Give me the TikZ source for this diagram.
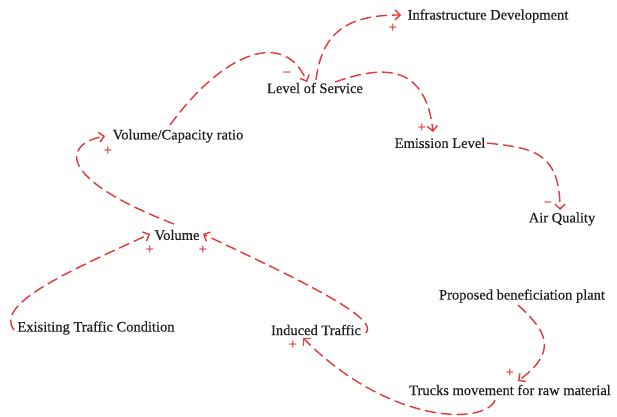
\documentclass[tikz,border=0pt]{standalone}
\usepackage{fontspec}
\setmainfont{Liberation Serif}
\newfontfamily\lblfont[FakeBold=0.3]{Liberation Serif}
\usetikzlibrary{arrows.meta,calc}
\definecolor{cldred}{RGB}{230,55,55}
\definecolor{txt}{RGB}{30,30,30}
\begin{document}
\begin{tikzpicture}[x=1pt,y=-1pt,
  lbl/.style={font=\lblfont\fontsize{14.5}{16}\selectfont, text=txt, inner sep=0pt},
  link/.style={draw=cldred, line width=1.4pt, dash pattern=on 11pt off 5pt,
    -{Straight Barb[length=5pt,width=10pt,line width=1.4pt]}},
  pol/.style={text=cldred, font=\fontsize{15}{15}\selectfont\bfseries, inner sep=0pt}]
\useasboundingbox (0,0) rectangle (617,416);
\fill[white] (0,0) rectangle (617,416);
% variables
\node[lbl] (infra) at (488,16) {Infrastructure Development};
\node[lbl] (los) at (315,88) {Level of Service};
\node[lbl] (vc) at (178,136) {Volume/Capacity ratio};
\node[lbl] (em) at (440,143) {Emission Level};
\node[lbl] (air) at (562,219) {Air Quality};
\node[lbl] (vol) at (177,235) {Volume};
\node[lbl] (plant) at (522,296) {Proposed beneficiation plant};
\node[lbl] (exist) at (96,328) {Exisiting Traffic Condition};
\node[lbl] (ind) at (316,330) {Induced Traffic};
\node[lbl] (truck) at (510,390) {Trucks movement for raw material};
% links
\draw[link] ($(vc)+(-8,-11)$) .. controls (225,50) and (285,30) .. ($(los)+(-8,-6)$);
\draw[link] ($(los)+(1,-8)$) .. controls (322,30) and (350,15) .. ($(infra)+(-87,-1)$);
\draw[link] ($(los)+(20,-6)$) .. controls (370,70) and (425,55) .. ($(em)+(-7,-11)$);
\draw[link] ($(em)+(47,0)$) .. controls (530,148) and (560,150) .. ($(air)+(-2,-9)$);
\draw[link] ($(vol)+(-3,-11)$) .. controls (60,180) and (60,145) .. ($(vc)+(-73,0)$);
\draw[link] ($(exist)+(-82,2)$) .. controls (-5,305) and (60,275) .. ($(vol)+(-27,-1)$);
\draw[link] ($(ind)+(50,3)$) .. controls (380,318) and (300,280) .. ($(vol)+(26,-1)$);
\draw[link] ($(truck)+(-15,10)$) .. controls (485,425) and (390,425) .. ($(ind)+(-13,8)$);
\draw[link] ($(plant)+(-4,9)$) .. controls (545,330) and (560,350) .. ($(truck)+(8,-9)$);
% polarities
\node[pol] (p1) at (287,75) {−};
\node[pol] (p2) at (393,28) {+};
\node[pol] (p3) at (422,128) {+};
\node[pol] (p4) at (548,205) {−};
\node[pol] (p5) at (108,151) {+};
\node[pol] (p6) at (150,250) {+};
\node[pol] (p7) at (203,250) {+};
\node[pol] (p8) at (293,345) {+};
\node[pol] (p9) at (510,373) {+};
\end{tikzpicture}
\end{document}
